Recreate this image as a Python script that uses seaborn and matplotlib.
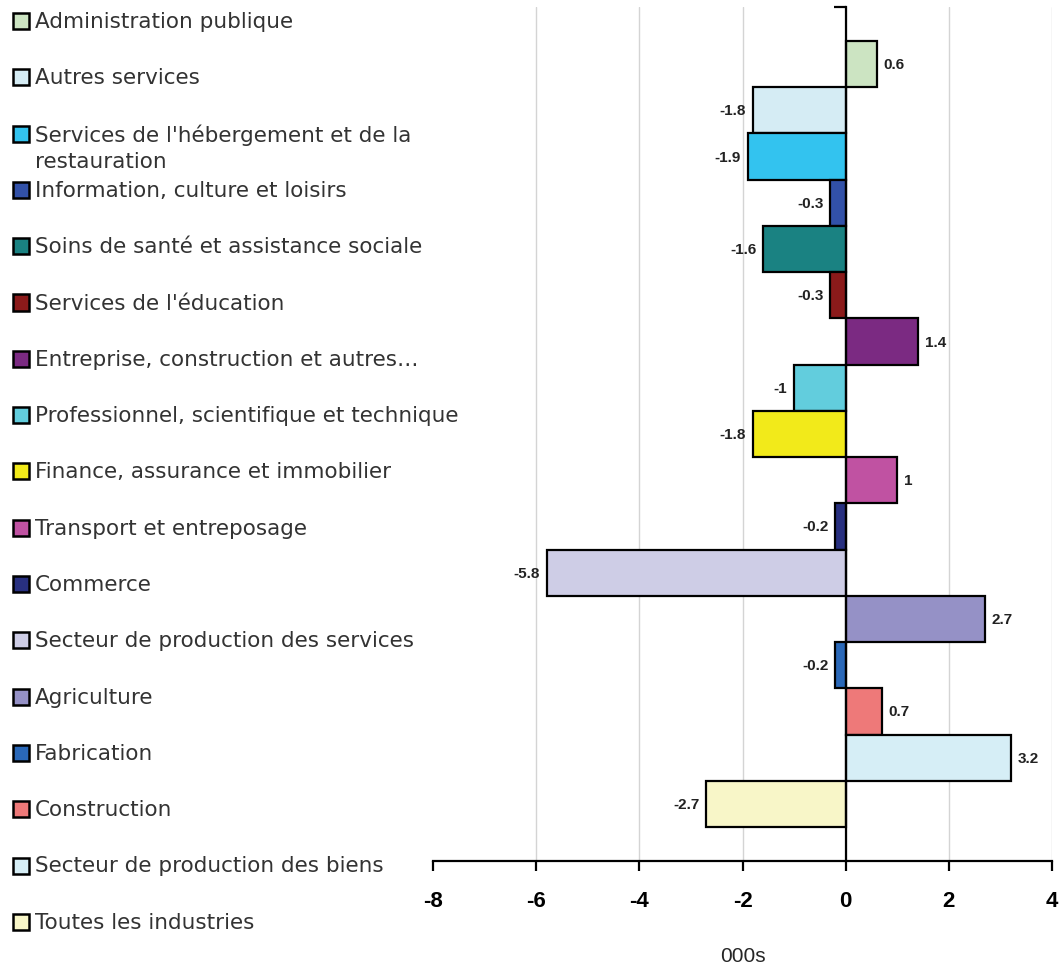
import seaborn as sns
import matplotlib.pyplot as plt
from matplotlib.patches import Rectangle

sns.set_theme(style="white")
plt.rcParams['font.family'] = ['DejaVu Sans']

# Data (top to bottom)
industries = [
    "Administration publique",
    "Autres services",
    "Services de l'hébergement et de la\nrestauration",
    "Information, culture et loisirs",
    "Soins de santé et assistance sociale",
    "Services de l'éducation",
    "Entreprise, construction et autres…",
    "Professionnel, scientifique et technique",
    "Finance, assurance et immobilier",
    "Transport et entreposage",
    "Commerce",
    "Secteur de production des services",
    "Agriculture",
    "Fabrication",
    "Construction",
    "Secteur de production des biens",
    "Toutes les industries",
]
changes = [0.6, -1.8, -1.9, -0.3, -1.6, -0.3, 1.4, -1, -1.8, 1, -0.2, -5.8, 2.7, -0.2, 0.7, 3.2, -2.7]
colors = [
    "#cce4c2", "#d5ecf4", "#33c3ef", "#3251a8", "#1a8282", "#8b1a1a",
    "#7b2a82", "#62cddd", "#f2ea1a", "#c052a2", "#283080", "#cecde6",
    "#9591c6", "#2a68b8", "#ee7979", "#d6eef6", "#f8f6c8",
]
x_ticks = [-8, -6, -4, -2, 0, 2, 4]

fig = plt.figure(figsize=(10.59, 9.70), dpi=100)
ax = fig.add_axes([0.4089, 0.1113, 0.5845, 0.8805])

sns.barplot(x=changes, y=industries, hue=industries, order=industries,
            hue_order=industries, palette=colors, saturation=1, width=1,
            orient="h", edgecolor="black", linewidth=1.6, legend=False, ax=ax)

for cont in ax.containers:
    ax.bar_label(cont, fmt="%g", padding=5, fontsize=11, fontweight="bold",
                 family="Liberation Sans", color="#222222")

gap = 0.735
ax.set_ylim(len(industries) - 0.5 + gap, -0.5 - gap)
ax.set_xlim(-8, 4)
ax.set_xticks(x_ticks)
ax.set_xticklabels([str(t) for t in x_ticks], fontsize=16, fontweight="bold",
                   family="Liberation Sans")
ax.set_yticks([-0.5 - gap])
ax.set_yticklabels([""])
ax.set_ylabel("")
ax.set_xlabel("000s", fontsize=15, family="Liberation Sans", labelpad=25)

ax.grid(axis="x", color="#d4d4d4", linewidth=1)
ax.set_axisbelow(True)
ax.get_xgridlines()[0].set_visible(False)

for side in ["top", "right"]:
    ax.spines[side].set_visible(False)
ax.spines["left"].set_position(("data", 0))
ax.spines["left"].set_linewidth(1.6)
ax.spines["left"].set_color("black")
ax.spines["bottom"].set_linewidth(1.6)
ax.spines["bottom"].set_color("black")
ax.tick_params(axis="x", direction="out", length=7, width=1.6, pad=14, colors="black", bottom=True)
ax.tick_params(axis="y", direction="out", length=9, width=1.6, left=True, colors="black")

# legend on the left, one row per industry
W, H = 1059, 970
for i, (name, col) in enumerate(zip(industries, colors)):
    yc = 22 + i * 56.3
    fig.patches.append(Rectangle((13 / W, 1 - (yc + 8) / H), 16 / W, 16 / H,
                                 transform=fig.transFigure, facecolor=col,
                                 edgecolor="black", linewidth=1.8))
    fig.text(35 / W, 1 - (yc - 10) / H, name, fontsize=15.5, va="top", ha="left",
             color="#333333", linespacing=1.35)

fig.savefig("out.png", dpi=100)
